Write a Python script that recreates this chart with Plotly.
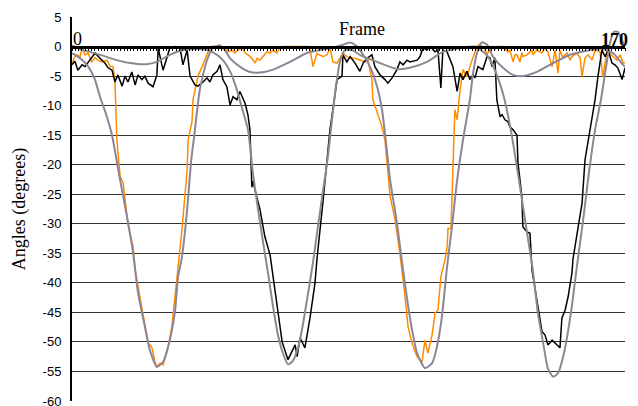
import plotly.graph_objects as go

# ---------------- data (frame, angle in degrees) ----------------
orange_frames = [0,0.6,1.5,2.5,3.1,4.0,4.9,6.1,7.1,8.0,9.2,10.8,11.7,12.6,13.2,13.8,14.8,15.7,17.2,18.8,19.4,20.9,22.4,23.4,24.6,25.5,26.1,27.1,28.0,29.5,30.7,31.7,32.3,33.2,33.8,35.4,35.7,36.9,37.2,38.4,38.7,40.0,40.9,41.8,43.0,44.0,44.9,46.1,47.0,48.0,49.2,50.1,51.0,52.3,53.2,54.1,55.3,56.3,56.9,57.8,58.7,59.9,60.9,61.8,63.0,63.9,64.9,67.0,69.2,71.0,72.5,73.2,74.1,75.3,76.2,77.2,78.4,79.3,80.2,81.5,82.4,83.3,84.5,85.5,87.0,88.5,90.1,91.0,92.2,92.5,93.8,95.3,96.2,96.8,97.8,99.3,100.8,102.4,103.3,104.5,106.1,107.6,108.5,109.4,110.7,111.6,112.5,113.4,114.7,115.3,115.6,116.5,116.8,117.1,117.4,117.7,118.4,118.7,119.3,120.2,121.4,122.3,123.3,124.5,125.4,126.3,127.0,127.6,128.5,129.1,130.0,130.6,132.5,133.1,134.0,134.6,135.6,136.2,136.8,137.7,138.3,138.6,139.9,140.8,141.4,141.7,142.9,144.5,145.4,146.3,147.6,148.5,149.4,150.0,150.9,151.6,152.2,153.1,153.7,155.2,156.2,156.8,157.7,158.6,159.9,160.8,162.3,163.2,164.5,165.4,166.3,167.5,168.5,169.4,170]
orange_angles = [-3.1,-2.0,-1.4,-1.7,-0.2,-1.4,-1.1,-2.6,-1.9,-2.3,-2.6,-2.3,-3.4,-3.4,-5.8,-15.8,-22,-23,-30,-34,-37.8,-42.4,-47.4,-50.2,-51,-53.4,-54.2,-53.6,-53.9,-51,-47.4,-42.4,-39,-34.4,-31,-20.9,-15.8,-12.7,-9,-6,-5,-3.4,-2,-0.9,0,0.1,0,-0.4,0,-0.9,-0.6,-1.1,-0.6,-0.2,-1.1,-1.4,-2.0,-2.8,-2.0,-2.3,-1.7,-0.9,-1.1,-0.6,-1.1,-0.2,0,0,0,0,0,-0.6,-3.4,-1.2,-1.4,-1.7,-1.4,-0.2,-2.6,-2.8,-1.9,-1.1,-1.7,-2.0,-2.0,-2.3,-2.6,-2.3,-5.6,-9,-11.3,-13.6,-15.8,-19.7,-25.4,-29.3,-35,-42.4,-47.4,-50.2,-52.5,-53.4,-49.7,-51.9,-48.8,-45.1,-44.6,-39,-36,-34,-30.8,-30.8,-25.4,-19.7,-14.1,-10.7,-12.4,-10.2,-7.3,-3.9,-5.1,-3.4,-1.7,0,0.4,-0.2,-0.5,-1.4,-0.3,0,-0.5,0,0,-0.3,-0.9,-0.6,-2.6,-1.4,-1.4,-2.6,-1.0,-1.7,-1.4,-0.9,-0.6,-1.4,-0.6,-1.1,-0.2,-0.9,-3.4,-0.6,-4.5,-0.6,-1.9,-1.4,-1.1,-2.3,-1.7,-1.1,-1.9,-5.1,-1.9,-1.4,-2.3,-0.6,-0.9,-5.1,-0.6,-1.1,-1.7,-2.3,-1.4,-2.8,-2.7]

black_frames = [0,0.9,1.8,3.1,4.0,5.5,7.1,8.6,10.1,11.1,12.3,13.2,14.1,15.4,16.3,17.2,18.4,19.4,20.3,21.5,22.4,23.4,24.9,26.1,26.5,28.0,29.2,30.1,31.7,33.2,34.1,35.4,36.3,37.8,38.7,40.3,41.5,42.4,43.3,44.6,45.5,46.4,47.6,48.6,49.5,50.7,51.6,53.2,54.1,54.7,55.3,55.6,57.8,59.3,60.9,61.5,63.3,64.6,66.4,68.6,69.2,70.1,71.6,73.2,74.7,75.3,77.2,78.4,79.3,81.5,83.0,83.3,84.5,85.5,87.0,88.5,89.5,90.7,92.2,93.1,94.7,96.2,97.1,98.4,99.9,100.8,101.8,103.0,103.9,106.1,107.0,107.9,109.1,110.1,111.6,112.5,113.4,114.0,115.3,117.1,118.4,119.3,120.2,121.4,122.3,123.3,123.9,124.8,126.3,127.6,128.5,129.1,130.0,130.6,131.6,132.2,133.1,134.0,134.6,135.6,136.8,137.1,138.3,138.6,139.9,140.8,141.4,142.9,144.5,145.4,146.3,147.6,148.5,150.0,150.6,151.6,152.5,153.7,154.0,156.8,157.7,159.2,160.8,161.7,162.9,163.9,164.8,166.0,166.9,167.8,169.1,170]
black_angles = [-3.1,-2.5,-4,-3.1,-3.4,-2.3,-1.1,-2,-2.8,-3.6,-4,-6,-4.8,-6.7,-5,-6,-4.3,-6.5,-4.8,-5.6,-5,-6.2,-6.8,-4.8,-0.3,-4,-1.7,-0.2,0,-0.2,-3.1,-0.6,-5,-6.5,-6.7,-6,-5.3,-6,-4.8,-4.2,-3.1,-5.6,-6.8,-9.9,-8.5,-9,-7.6,-9.6,-11.6,-14.1,-23.8,-22.8,-27.6,-32.2,-35.3,-37.8,-45,-50,-53,-50.5,-52.5,-49.3,-51,-45.8,-40,-36,-26,-19.7,-14.1,-5.6,-5,-1.4,-2.6,-1.7,-2.8,-4.2,-2.8,-2,-1.4,-3.4,-4.8,-5.6,-6.2,-5.3,-3.9,-2.6,-3.1,-2.3,-2.6,-2.3,-1.7,-0.2,-0.6,0,-0.9,-0.6,-7,-0.6,-0.9,-3.4,-7.6,-4.5,-5.6,-4.2,-5.6,-4.8,-5.3,-3.4,-3.9,-1.7,-1.9,-3.4,-1.9,-9,-11.9,-11.5,-12.4,-12.7,-13.6,-14.1,-15,-19.7,-25.4,-30.5,-31.4,-31.6,-37.8,-42.9,-48.3,-48.8,-50.5,-49.7,-50.2,-51,-46,-44.6,-42.4,-38.3,-36,-26.5,-19.2,-14.1,-9,-5,-0.6,-1.7,-0.6,-2.8,-3.1,-3.6,-5.6,-3.6]

orange_fit_frames = [0,2.5,5,7,8.6,10.5,12.3,14.8,16.9,18.8,20.3,22.4,23.9,26.1,28.0,30.1,31.7,32.6,33.8,35.4,36.6,37.6,39.3,41.5,43.3,45.5,47.0,48.6,51.6,54.7,57.8,61.8,67.0,72.2,76.2,80,83.3,85.5,87.6,89.5,91.6,93.8,95.3,96.2,97.8,99.9,101.5,104,106.1,108.5,110.7,112.2,113.7,115.3,116.8,118.4,120.2,122.3,123.3,124.5,126.0,127.6,129.4,132.5,135.6,138.6,142.9,147.9,153.1,158.3,163.2,166.3,169.4,170]
orange_fit_angles = [-1.1,-2.0,-3.4,-5.5,-8.5,-11.5,-15,-22.6,-28.8,-35,-41.7,-47.4,-51.3,-54.2,-53.4,-49.6,-44.6,-39,-35.6,-27.6,-19.5,-15,-7.3,-2.3,-0.3,0.2,-0.6,-2.0,-3.4,-4.3,-4.4,-3.9,-2.6,-1.1,-0.6,-0.2,0.3,0.7,0,-1.4,-3.4,-6.8,-10.7,-14.6,-22.6,-29.9,-36.7,-46.3,-51.9,-54.4,-53.6,-50.8,-45.8,-37.3,-30.5,-22.6,-15.8,-9,-4.5,-1.1,0.7,0.3,-1.7,-3.6,-4.8,-5,-4.3,-2.8,-1.4,-0.7,-0.4,-1.1,-3.1,-3.4]

black_fit_frames = [0,3.4,5.5,9.2,13.8,17.8,22.9,26.1,30.1,34.1,38.4,41.5,44.6,46.4,48.6,50.5,52.3,54.1,55.6,57.2,58.7,60.3,61.8,63.3,64.9,66.4,67.9,69.5,71.0,72.5,74.1,75.6,77.2,78.7,79.9,81.2,82.4,83.9,86.1,88.5,93.8,99.9,103.9,109.1,114.0,119.3,123.9,127.6,130,132.5,134.9,137.4,139.6,141.7,143.2,145.1,146.3,147.9,149.4,151.2,153.4,155.2,157.4,158.9,160.8,162.6,164.2,165.4,166.6,167.8,169.1,170]
black_fit_angles = [0.2,-0.6,-0.9,-1.5,-2.3,-2.8,-3.0,-2.6,-1.4,-0.6,-0.4,-0.6,-1.4,-2.3,-4.2,-7,-10.5,-14.1,-21.4,-27.6,-33,-38.5,-44,-48.8,-52,-53.8,-53.2,-51,-47,-42,-36.5,-30.5,-24.3,-18.5,-12.5,-6.5,-2.5,-0.6,-0.6,-1.4,-2.6,-3.8,-3.6,-2.6,-0.9,-0.3,0,-1.5,-4,-8,-14.1,-22.6,-30.5,-38,-45,-51,-54.5,-55.9,-55.3,-52,-45,-37.3,-28.2,-21.4,-14.1,-9,-3.4,0.6,2.5,2.5,1.1,-0.2]

y_ticks = [5, 0, -5, -10, -15, -20, -25, -30, -35, -40, -45, -50, -55, -60]

# ---------------- figure ----------------
fig = go.Figure()
fig.add_trace(go.Scatter(x=orange_frames, y=orange_angles, mode="lines",
                         line=dict(color="#FF8C00", width=1.5), showlegend=False))
fig.add_trace(go.Scatter(x=black_frames, y=black_angles, mode="lines",
                         line=dict(color="#000000", width=1.5), showlegend=False))
fig.add_trace(go.Scatter(x=orange_fit_frames, y=orange_fit_angles, mode="lines",
                         line=dict(color="#8E8498", width=2, shape="spline", smoothing=0.6),
                         showlegend=False))
fig.add_trace(go.Scatter(x=black_fit_frames, y=black_fit_angles, mode="lines",
                         line=dict(color="#8A8A8A", width=2, shape="spline", smoothing=0.6),
                         showlegend=False))

serif = "Liberation Serif, Times New Roman, serif"

# the page body adds an 8px offset; margins compensate for it
fig.update_layout(
    width=638, height=406,
    margin=dict(l=64, r=21, t=9, b=13, autoexpand=False),
    paper_bgcolor="white", plot_bgcolor="white",
    showlegend=False,
    xaxis=dict(range=[0, 170], anchor="free", position=60/65,
               showline=True, linecolor="black", linewidth=2.5,
               ticks="outside", ticklen=3, tickwidth=1, tickcolor="black",
               tick0=0, dtick=1, showticklabels=False,
               showgrid=False, zeroline=False),
    yaxis=dict(range=[-60, 5], domain=[0, 1], tickvals=y_ticks,
               ticktext=[str(v) for v in y_ticks],
               showline=True, linecolor="black", linewidth=2,
               ticks="outside", ticklen=6, tickcolor="rgba(0,0,0,0)",
               showgrid=True, gridcolor="#333333", gridwidth=1,
               zeroline=False,
               tickfont=dict(family="Liberation Sans, Arial, sans-serif", size=13, color="black"),
               title=dict(text="Angles (degrees)", standoff=12,
                          font=dict(family=serif, size=18, color="black"))),
    annotations=[
        dict(x=89, y=3.0, xref="x", yref="y", text="Frame", showarrow=False,
             font=dict(family=serif, size=18, color="black")),
        dict(x=1.7, y=1.3, xref="x", yref="y", text="0", showarrow=False,
             font=dict(family=serif, size=18, color="black")),
        dict(x=166.8, y=1.1, xref="x", yref="y", text="<b>170</b>", showarrow=False,
             font=dict(family=serif, size=18, color="black")),
    ],
)

fig.write_html("out.html")
